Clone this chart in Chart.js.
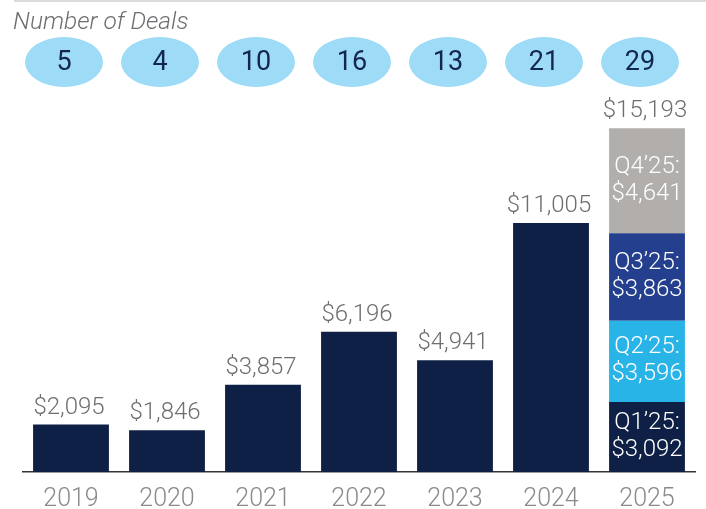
<!DOCTYPE html>
<html>
<head>
<meta charset="utf-8">
<script src="https://cdn.jsdelivr.net/npm/chart.js@4.4.9/dist/chart.umd.min.js"></script>
<style>
  html, body { margin:0; padding:0; background:#fff; }
  #wrap { width:706px; height:509px; position:relative; }
</style>
</head>
<body>
<div id="wrap"><canvas id="chart" width="706" height="509"></canvas></div>
<script>
/* data */
const years   = ['2019','2020','2021','2022','2023','2024','2025'];
const deals   = [5, 4, 10, 16, 13, 21, 29];
const annual  = [2095, 1846, 3857, 6196, 4941, 11005, null];
const q1      = [null, null, null, null, null, null, 3092];
const q2      = [null, null, null, null, null, null, 3596];
const q3      = [null, null, null, null, null, null, 3863];
const q4      = [null, null, null, null, null, null, 4641];
const totals  = [2095, 1846, 3857, 6196, 4941, 11005, 15193];
const qNames  = ['Q1\u201925:', 'Q2\u201925:', 'Q3\u201925:', 'Q4\u201925:'];

const NAVY = '#0f2046', SKY = '#29b4e8', BLUE = '#233f8d', GREY = '#b2aeac';
const FONT = 'Roboto, "Noto Sans", sans-serif';
const money = v => '$' + v.toLocaleString('en-US');

/* custom drawing: header, bubbles, labels */
const decor = {
  id: 'decor',
  beforeDraw(chart) {
    const c = chart.ctx;
    c.save();
    c.fillStyle = '#dcdcdc';
    c.fillRect(14, 0, 692, 2);
    c.fillStyle = '#6d6e71';
    c.font = 'italic 300 24.5px ' + FONT;
    c.textBaseline = 'alphabetic';
    c.fillText('Number of Deals', 13, 29);
    c.restore();
  },
  afterDatasetsDraw(chart) {
    const c = chart.ctx, x = chart.scales.x, y = chart.scales.y;
    c.save();
    // deal bubbles
    deals.forEach((d, i) => {
      const cx = x.getPixelForValue(i) - 7;
      c.beginPath();
      c.ellipse(cx, 62, 39, 25, 0, 0, Math.PI * 2);
      c.fillStyle = '#9ddbf6';
      c.fill();
      c.fillStyle = '#13264d';
      c.font = '27px ' + FONT;
      c.textAlign = 'center';
      c.textBaseline = 'middle';
      c.fillText(String(d), cx, 63);
    });
    // totals above bars
    c.font = '300 24px ' + FONT;
    c.fillStyle = '#6d6e71';
    c.textAlign = 'center';
    c.textBaseline = 'middle';
    totals.forEach((t, i) => {
      c.fillText(money(t), x.getPixelForValue(i) - 2, y.getPixelForValue(t) - 17);
    });
    // quarter labels inside 2025 stack
    c.font = '300 24px ' + FONT;
    c.fillStyle = '#ffffff';
    [1, 2, 3, 4].forEach((ds, k) => {
      const el = chart.getDatasetMeta(ds).data[6];
      if (!el) return;
      const mid = (el.y + el.base) / 2;
      const v = chart.data.datasets[ds].data[6];
      c.fillText(qNames[k], el.x, mid - 14);
      c.fillText(money(v), el.x, mid + 13);
    });
    c.restore();
  }
};

const mk = (label, data, color) => ({
  label, data, backgroundColor: color,
  barPercentage: 0.79, categoryPercentage: 1, borderWidth: 0
});

new Chart(document.getElementById('chart'), {
  type: 'bar',
  data: {
    labels: years,
    datasets: [
      mk('Annual', annual, NAVY),
      mk('Q1', q1, NAVY),
      mk('Q2', q2, SKY),
      mk('Q3', q3, BLUE),
      mk('Q4', q4, GREY)
    ]
  },
  options: {
    responsive: false,
    animation: false,
    layout: { padding: { top: 110, left: 23, right: 11, bottom: 0 } },
    plugins: { legend: { display: false }, tooltip: { enabled: false } },
    scales: {
      x: {
        stacked: true,
        grid: { display: false, drawTicks: false },
        border: { display: true, color: '#333333', width: 1.5 },
        ticks: { color: '#8a8a8a', padding: 13, font: { family: FONT, size: 25, weight: '300' } },
        afterFit: s => { s.height = 37; }
      },
      y: {
        stacked: true, display: false, min: 0, max: 16000
      }
    }
  },
  plugins: [decor]
});
</script>
</body>
</html>
